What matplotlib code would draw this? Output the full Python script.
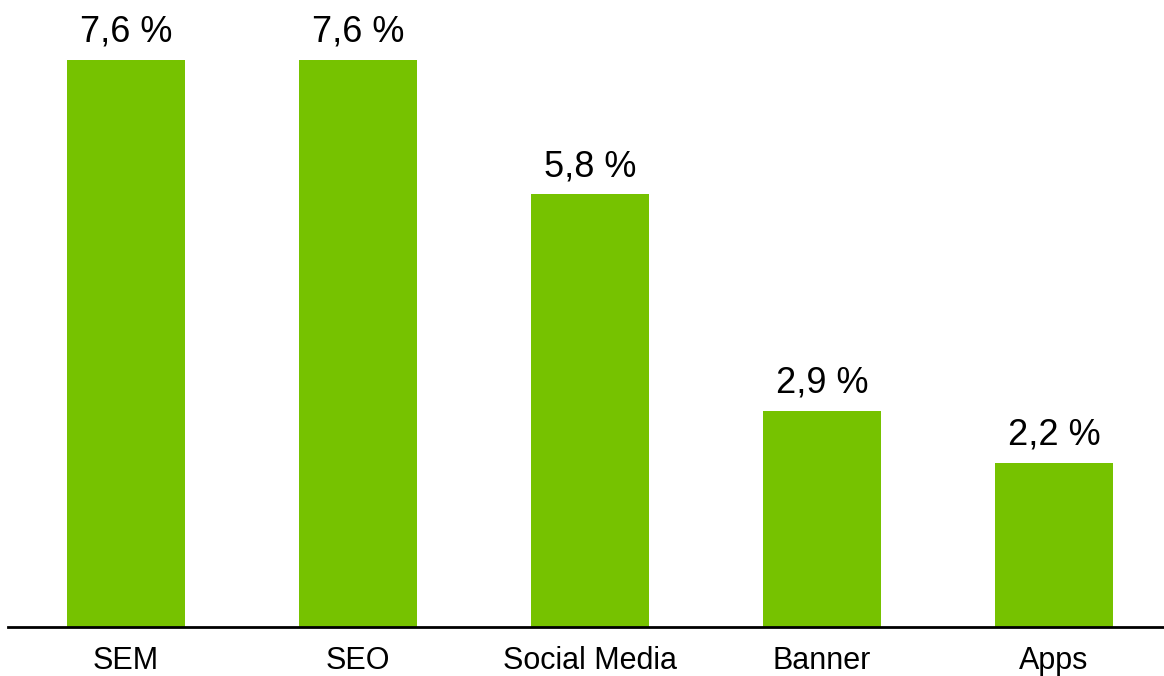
import matplotlib.pyplot as plt

plt.rcParams['font.family'] = ['Liberation Sans', 'DejaVu Sans']

# Anteile je Kanal
kanaele = ['SEM', 'SEO', 'Social Media', 'Banner', 'Apps']
anteile = [7.6, 7.6, 5.8, 2.9, 2.2]
beschriftung = ['7,6 %', '7,6 %', '5,8 %', '2,9 %', '2,2 %']

fig = plt.figure(figsize=(11.64, 6.76), dpi=100)
ax = fig.add_axes([8 / 1164, 49 / 676, 1156 / 1164, 627 / 676])

x = range(len(kanaele))
balken = ax.bar(x, anteile, width=0.51, color='#76c200')

for b, txt in zip(balken, beschriftung):
    ax.annotate(txt, (b.get_x() + b.get_width() / 2, b.get_height()),
                xytext=(0, 13), textcoords='offset points',
                ha='center', va='baseline', fontsize=26, color='black')

ax.set_xlim(-0.509, 4.474)
ax.set_ylim(0, 8.40)
ax.set_xticks(list(x))
ax.set_xticklabels(kanaele, fontsize=22)
ax.tick_params(axis='x', length=0, pad=13.5)
ax.set_yticks([])

for s in ['top', 'right', 'left']:
    ax.spines[s].set_visible(False)
ax.spines['bottom'].set_linewidth(2)

fig.savefig('out.png', dpi=100)
